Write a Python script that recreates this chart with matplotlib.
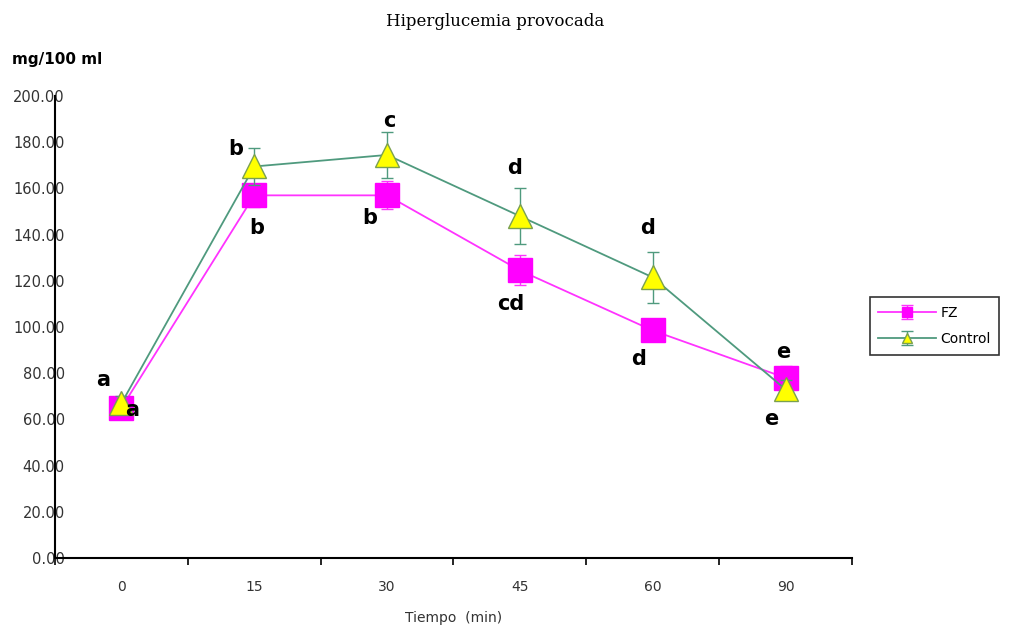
import numpy as np
import matplotlib.pyplot as plt

# datos
tiempos = ["0", "15", "30", "45", "60", "90"]
fz = [65.0, 157.0, 157.0, 124.5, 98.5, 78.0]
fz_err = [2.5, 5.0, 6.0, 6.5, 4.0, 5.0]
control = [67.0, 169.5, 174.5, 148.0, 121.5, 73.0]
control_err = [3.0, 8.0, 10.0, 12.0, 11.0, 4.0]

# letras de significancia: (indice, valor, texto)
letras = [(0, 77, "a"), (0, 64, "a"), (1, 177, "b"), (1, 143, "b"),
          (2, 147, "b"), (2, 189, "c"), (3, 169, "d"), (3, 110, "cd"),
          (4, 143, "d"), (4, 86, "d"), (5, 89, "e"), (5, 60, "e")]
desplaz = [-0.14, 0.08, -0.14, 0.02, -0.13, 0.02, -0.04, -0.07, -0.04, -0.11, -0.02, -0.11]

fig = plt.figure(figsize=(10.1, 6.26), dpi=100)
ax = fig.add_axes([0.0545, 0.1086, 0.789, 0.738])

x = np.arange(len(tiempos))
ax.errorbar(x, fz, yerr=fz_err, color="#ff33ff", lw=1.3, marker="s", ms=17,
            mfc="#ff00ff", mec="#ff00ff", ecolor="#ff33ff", elinewidth=1,
            capsize=4, label="FZ", zorder=3)
ax.errorbar(x, control, yerr=control_err, color="#4f9a7e", lw=1.3, marker="^",
            ms=17, mfc="#ffff00", mec="#7aa050", ecolor="#4f9a7e", elinewidth=1,
            capsize=4, label="Control", zorder=4)

for (i, v, t), d in zip(letras, desplaz):
    ax.text(i + d, v, t, fontsize=15, fontweight="bold", ha="center", va="center",
            family="DejaVu Sans", zorder=5)

ax.set_xlim(-0.5, len(tiempos) - 0.5)
ax.set_ylim(0, 200)
ax.set_xticks(x)
ax.set_xticklabels(tiempos, fontsize=10, color="#333333")
ax.set_xticks(np.arange(-0.5, len(tiempos), 1.0), minor=True)
ax.tick_params(axis="x", which="major", length=0, pad=16)
ax.tick_params(axis="x", which="minor", length=5, width=1.2, direction="out")
ax.set_yticks(np.arange(0, 201, 20))
ax.set_yticklabels([f"{v:.2f}" for v in np.arange(0, 201, 20)], fontsize=10.5, color="#333333")
ax.tick_params(axis="y", length=0, pad=-7)

for s in ["top", "right"]:
    ax.spines[s].set_visible(False)
ax.spines["left"].set_linewidth(1.5)
ax.spines["bottom"].set_linewidth(1.5)

ax.set_xlabel("Tiempo  (min)", fontsize=10, color="#333333", labelpad=12)
fig.text(0.49, 0.965, "Hiperglucemia provocada", fontsize=12, family="DejaVu Serif",
         ha="center", va="center")
fig.text(0.012, 0.905, "mg/100 ml", fontsize=11, fontweight="bold", ha="left", va="center")

leg = fig.legend(loc="upper left", bbox_to_anchor=(0.861, 0.525), frameon=True,
                 fancybox=False, edgecolor="black", fontsize=10, borderpad=0.6,
                 labelspacing=0.9, handlelength=4.2, handletextpad=0.3,
                 borderaxespad=0, markerscale=0.4)
leg.get_frame().set_linewidth(1.2)

fig.savefig("out.png", dpi=100)
